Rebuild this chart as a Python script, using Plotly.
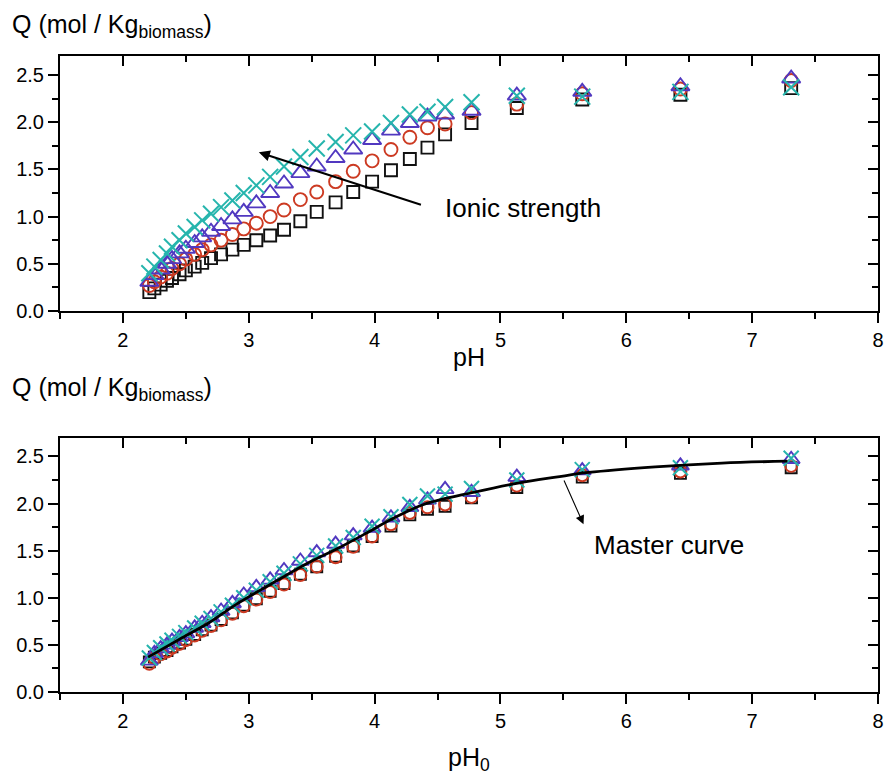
import plotly.graph_objects as go

# ---- data ----
pH = [2.21, 2.25, 2.30, 2.35, 2.39, 2.45, 2.50, 2.57, 2.63, 2.70, 2.78, 2.87, 2.96, 3.06, 3.17,
      3.28, 3.41, 3.54, 3.69, 3.83, 3.98, 4.13, 4.28, 4.42, 4.56, 4.77, 5.13, 5.65, 6.43, 7.31]

Q_sq = [0.20, 0.24, 0.28, 0.32, 0.35, 0.39, 0.43, 0.47, 0.51, 0.56, 0.60, 0.65, 0.70, 0.75, 0.80,
        0.86, 0.95, 1.05, 1.15, 1.26, 1.37, 1.49, 1.61, 1.73, 1.87, 1.99, 2.15, 2.24, 2.29, 2.36]
Q_ci = [0.27, 0.31, 0.36, 0.40, 0.45, 0.50, 0.55, 0.60, 0.65, 0.70, 0.75, 0.81, 0.87, 0.93, 1.00,
        1.07, 1.18, 1.26, 1.37, 1.48, 1.59, 1.71, 1.84, 1.94, 1.98, 2.10, 2.19, 2.30, 2.35, 2.44]
Q_tr = [0.31, 0.38, 0.44, 0.50, 0.55, 0.61, 0.66, 0.72, 0.78, 0.84, 0.90, 0.97, 1.05, 1.14, 1.25,
        1.35, 1.46, 1.53, 1.62, 1.71, 1.81, 1.91, 1.99, 2.06, 2.08, 2.12, 2.28, 2.32, 2.38, 2.46]
Q_x = [0.40, 0.47, 0.54, 0.61, 0.68, 0.75, 0.82, 0.89, 0.96, 1.03, 1.10, 1.17, 1.25, 1.33, 1.42,
       1.53, 1.63, 1.72, 1.79, 1.86, 1.90, 1.99, 2.08, 2.11, 2.16, 2.21, 2.28, 2.27, 2.32, 2.37]

pH0 = [2.21, 2.25, 2.30, 2.35, 2.39, 2.45, 2.50, 2.57, 2.63, 2.70, 2.78, 2.87, 2.96, 3.06, 3.17,
       3.28, 3.41, 3.54, 3.69, 3.83, 3.98, 4.13, 4.28, 4.42, 4.56, 4.77, 5.13, 5.65, 6.43, 7.31]
Q0_sq = [0.32, 0.37, 0.41, 0.44, 0.48, 0.52, 0.56, 0.61, 0.66, 0.71, 0.77, 0.84, 0.92, 0.99, 1.07,
         1.15, 1.25, 1.33, 1.44, 1.55, 1.65, 1.76, 1.88, 1.94, 1.97, 2.06, 2.17, 2.28, 2.32, 2.38]
Q0_ci = [0.30, 0.36, 0.40, 0.43, 0.47, 0.51, 0.55, 0.60, 0.65, 0.70, 0.76, 0.83, 0.91, 0.98, 1.06,
         1.14, 1.24, 1.33, 1.43, 1.54, 1.65, 1.78, 1.90, 1.96, 1.99, 2.07, 2.19, 2.30, 2.34, 2.40]
Q0_tr = [0.33, 0.41, 0.46, 0.50, 0.54, 0.58, 0.62, 0.68, 0.73, 0.79, 0.86, 0.94, 1.03, 1.11, 1.19,
         1.29, 1.39, 1.48, 1.57, 1.66, 1.74, 1.85, 1.96, 2.04, 2.15, 2.12, 2.28, 2.35, 2.40, 2.47]
Q0_x = [0.36, 0.42, 0.47, 0.51, 0.55, 0.59, 0.63, 0.68, 0.73, 0.78, 0.85, 0.92, 1.00, 1.08, 1.17,
        1.26, 1.36, 1.45, 1.55, 1.64, 1.76, 1.86, 1.99, 2.08, 2.10, 2.16, 2.25, 2.36, 2.38, 2.48]

master_pH = [2.20, 2.45, 2.69, 2.90, 3.26, 3.47, 3.73, 3.94, 4.13, 4.39, 4.79, 5.15, 5.44, 5.70, 6.23, 6.76, 7.28]
master_Q = [0.37, 0.56, 0.74, 0.93, 1.21, 1.37, 1.54, 1.69, 1.83, 1.99, 2.12, 2.22, 2.28, 2.33, 2.39, 2.43, 2.45]

x_range = [1.5, 8]
y_range = [0, 2.7]

FONT = "Liberation Sans, Arial, sans-serif"
BLACK = "#111111"
RED = "#cc3a22"
BLUE = "#5138c0"
TEAL = "#26b5ad"

series = [
    ("square-open", BLACK, 12, 1.9),
    ("circle-open", RED, 13, 1.9),
    ("triangle-up-open", BLUE, 16, 1.9),
    ("x-thin-open", TEAL, 16, 2.0),
]

fig = go.Figure()

tops = [Q_sq, Q_ci, Q_tr, Q_x]
bots = [Q0_sq, Q0_ci, Q0_tr, Q0_x]
for (sym, col, sz, lw), q in zip(series, tops):
    fig.add_trace(go.Scatter(x=pH, y=q, mode="markers", xaxis="x", yaxis="y",
                             marker=dict(symbol=sym, size=sz, color=col, line=dict(color=col, width=lw)),
                             showlegend=False))
for (sym, col, sz, lw), q in zip(series, bots):
    fig.add_trace(go.Scatter(x=pH0, y=q, mode="markers", xaxis="x2", yaxis="y2",
                             marker=dict(symbol=sym, size=sz - 1, color=col, line=dict(color=col, width=lw)),
                             showlegend=False))
fig.add_trace(go.Scatter(x=master_pH, y=master_Q, mode="lines", xaxis="x2", yaxis="y2",
                         line=dict(color="black", width=2.8, shape="spline", smoothing=1.0),
                         showlegend=False))
# dummy traces so the mirrored frame axes are drawn
fig.add_trace(go.Scatter(x=[], y=[], xaxis="x3", yaxis="y3", showlegend=False))
fig.add_trace(go.Scatter(x=[], y=[], xaxis="x4", yaxis="y4", showlegend=False))

top_dom = [0.599, 1.0]
bot_dom = [0.0, 0.4]

def xax(anchor, labels=True, side="bottom", ticks="outside", overlay=None):
    d = dict(range=x_range, dtick=1, tick0=0, ticks=ticks, ticklen=10, tickwidth=2, tickcolor="black",
             showline=True, linecolor="black", linewidth=2, showgrid=False, zeroline=False,
             showticklabels=labels, side=side, anchor=anchor,
             tickfont=dict(family=FONT, size=20, color="black"),
             minor=dict(dtick=0.5, tick0=0, ticks=ticks, ticklen=6, tickwidth=2, tickcolor="black", showgrid=False))
    if overlay:
        d["overlaying"] = overlay
    return d

def yax(anchor, dom, labels=True, side="left", ticks="outside", overlay=None):
    d = dict(range=y_range, dtick=0.5, tick0=0, tickformat=".1f", ticks=ticks, ticklen=10, tickwidth=2,
             tickcolor="black", showline=True, linecolor="black", linewidth=2, showgrid=False, zeroline=False,
             showticklabels=labels, side=side, anchor=anchor, domain=dom,
             tickfont=dict(family=FONT, size=20, color="black"),
             minor=dict(dtick=0.25, tick0=0, ticks=ticks, ticklen=6, tickwidth=2, tickcolor="black", showgrid=False))
    if overlay:
        d["overlaying"] = overlay
    return d

fig.update_layout(
    width=895, height=781,
    margin=dict(l=60, r=11, t=56, b=89),
    paper_bgcolor="white", plot_bgcolor="white",
    font=dict(family=FONT, color="black"),
    xaxis=xax("y"),
    yaxis=yax("x", top_dom),
    xaxis2=xax("y2"),
    yaxis2=yax("x2", bot_dom),
    xaxis3=xax("y3", labels=False, side="top", ticks="inside", overlay="x"),
    yaxis3=yax("x3", top_dom, labels=False, side="right", ticks="inside", overlay="y"),
    xaxis4=xax("y4", labels=False, side="top", ticks="inside", overlay="x2"),
    yaxis4=yax("x4", bot_dom, labels=False, side="right", ticks="inside", overlay="y2"),
)

ann = []
ytitle = "Q (mol / Kg<sub>biomass</sub>)"
ann.append(dict(text=ytitle, xref="paper", yref="paper", x=-0.061, y=1.047, xanchor="left", yanchor="middle",
                showarrow=False, font=dict(family=FONT, size=25)))
ann.append(dict(text=ytitle, xref="paper", yref="paper", x=-0.061, y=0.476, xanchor="left", yanchor="middle",
                showarrow=False, font=dict(family=FONT, size=25)))
ann.append(dict(text="pH", xref="paper", yref="paper", x=0.5, y=0.527, xanchor="center", yanchor="middle",
                showarrow=False, font=dict(family=FONT, size=25)))
ann.append(dict(text="pH<sub>0</sub>", xref="paper", yref="paper", x=0.5, y=-0.105, xanchor="center", yanchor="middle",
                showarrow=False, font=dict(family=FONT, size=25)))
ann.append(dict(text="Ionic strength", xref="x", yref="y", x=4.54, y=1.09, xanchor="left", yanchor="middle",
                showarrow=False, font=dict(family=FONT, size=26)))
ann.append(dict(text="", xref="x", yref="y", x=3.08, y=1.68, ax=4.38, ay=1.12, axref="x", ayref="y",
                showarrow=True, arrowhead=2, arrowsize=1.1, arrowwidth=2, arrowcolor="black"))
ann.append(dict(text="Master curve", xref="x2", yref="y2", x=5.73, y=1.56, xanchor="left", yanchor="middle",
                showarrow=False, font=dict(family=FONT, size=26)))
ann.append(dict(text="", xref="x2", yref="y2", x=5.66, y=1.78, ax=5.50, ay=2.26, axref="x2", ayref="y2",
                showarrow=True, arrowhead=2, arrowsize=1.6, arrowwidth=1.1, arrowcolor="black"))
fig.update_layout(annotations=ann)

fig.write_html("out.html")
